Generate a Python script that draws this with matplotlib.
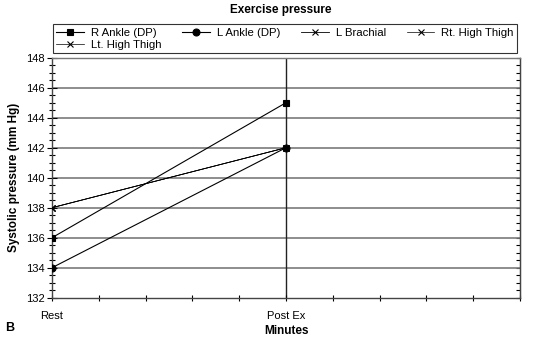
import matplotlib.pyplot as plt
import numpy as np

plt.rcParams['font.family'] = ['Liberation Sans', 'DejaVu Sans']

time_labels = ['Rest', 'Post Ex']
series_names = ['R Ankle (DP)', 'L Ankle (DP)', 'L Brachial', 'Rt. High Thigh', 'Lt. High Thigh']
r_ankle = [136, 145]
l_ankle = [134, 142]
l_brachial = [138, 142]
rt_thigh = [138, 142]
lt_thigh = [138, 142]
markers = ['s', 'o', 'x', 'x', 'x']
msizes = [5, 5, 4, 4, 4]
widths = [0.8, 0.8, 0.6, 0.5, 0.5]

fig = plt.figure(figsize=(5.33, 3.4), dpi=100)
ax = fig.add_axes([0.0976, 0.1244, 0.8780, 0.7059])

x = [0, 1]
handles = []
for vals, name, m, ms, lw in zip([r_ankle, l_ankle, l_brachial, rt_thigh, lt_thigh],
                                 series_names, markers, msizes, widths):
    h, = ax.plot(x, vals, color='black', lw=lw, marker=m, markersize=ms,
                 markeredgewidth=0.8, label=name, zorder=3)
    handles.append(h)

ax.set_xlim(0, 2)
ax.set_ylim(132, 148)
ax.set_yticks(np.arange(132, 149, 2))
ax.set_yticks(np.arange(132, 148.1, 0.5), minor=True)
xt = np.round(np.arange(0, 2.01, 0.2), 1)
ax.set_xticks(xt)
ax.set_xticklabels(['Rest' if v == 0 else 'Post Ex' if v == 1 else '' for v in xt])

for y in range(134, 148, 2):
    ax.axhline(y, color='#7a7a7a', lw=1.2, zorder=1)
ax.axvline(1, color='#222222', lw=1.0, zorder=1)

for s in ax.spines.values():
    s.set_color('#444444')
    s.set_linewidth(1.0)
ax.spines['top'].set_color('#7a7a7a')

ax.tick_params(axis='y', which='major', direction='inout', length=7, width=0.8,
               labelsize=8, pad=2)
ax.tick_params(axis='y', which='minor', direction='inout', length=4, width=0.8)
ax.tick_params(axis='x', which='major', direction='inout', length=5, width=0.8,
               labelsize=8, pad=7)

sec = ax.secondary_yaxis('right')
sec.set_yticks(np.arange(132, 149, 2))
sec.set_yticks(np.arange(132, 148.1, 0.5), minor=True)
sec.tick_params(which='both', direction='in', length=3, width=0.8, labelright=False)
sec.spines['right'].set_color('#444444')

ax.set_ylabel('Systolic pressure (mm Hg)', fontsize=8.5, fontweight='bold', labelpad=4)
ax.set_xlabel('Minutes', fontsize=8.5, fontweight='bold', labelpad=3)
fig.text(0.527, 0.972, 'Exercise pressure', ha='center', va='center',
         fontsize=8.5, fontweight='bold')
fig.text(0.01, 0.035, 'B', ha='left', va='center', fontsize=9, fontweight='bold')

# legend fills column by column; reorder so the first row holds four entries
order = [0, 4, 1, 2, 3]
leg = fig.legend(handles=[handles[i] for i in order], loc='lower left', ncol=4, mode='expand',
                 bbox_to_anchor=(0.0994, 0.844, 0.8705, 0.088),
                 fontsize=8.2, frameon=True, fancybox=False, edgecolor='black',
                 handlelength=2.4, handletextpad=0.6, borderpad=0.3,
                 labelspacing=0.15, borderaxespad=0, columnspacing=1.0)
leg.get_frame().set_linewidth(0.8)

fig.savefig('out.png', dpi=100)
